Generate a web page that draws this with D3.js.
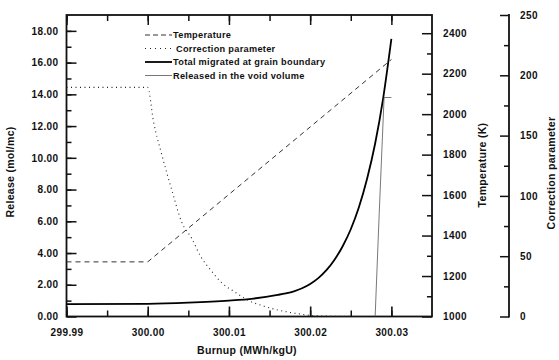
<!DOCTYPE html>
<html>
<head>
<meta charset="utf-8">
<script src="https://cdn.jsdelivr.net/npm/d3@7"></script>
<style>
  body { margin: 0; background: #fff; }
  svg { font-family: "Liberation Sans", Arial, sans-serif; font-weight: bold; }
  .axis path, .axis line { stroke: #111; }
  .axis text { font-size: 10px; fill: #111; letter-spacing: 0.4px; }
  .title { font-size: 10.5px; fill: #111; letter-spacing: 0.3px; }
  .legend text { font-size: 9.2px; fill: #111; letter-spacing: 0.3px; }
</style>
</head>
<body>
<div id="chart"></div>
<script>
// temperature (K) vs burnup
const burnupTemp = [299.99, 300.00, 300.03];
const temperature = [1270, 1270, 2270];

// correction parameter vs burnup
const burnupCorr = [299.99, 300.0000, 300.0007, 300.0017, 300.0030, 300.0042, 300.0054, 300.0065,
  300.0077, 300.0091, 300.0108, 300.0125, 300.0141, 300.0161, 300.0188, 300.0205, 300.0230, 300.0270];
const correction = [190, 190, 162, 135, 104, 78, 65, 50, 39, 28, 20, 13, 9, 5.3, 2, 0.6, 0.2, 0];

// total migrated at grain boundary (mol/mc)
const burnupTotal = [299.99, 300.000, 300.005, 300.010, 300.013, 300.016, 300.017, 300.018, 300.019,
  300.020, 300.021, 300.022, 300.023, 300.024, 300.025, 300.026, 300.027, 300.028, 300.029, 300.030];
const totalMigrated = [0.78, 0.80, 0.87, 1.0, 1.13, 1.36, 1.46, 1.59, 1.78, 2.05, 2.42, 2.92, 3.58,
  4.43, 5.5, 6.88, 8.66, 10.9, 13.8, 17.5];

// released in the void volume (mol/mc)
const burnupVoid = [300.0280, 300.0285, 300.0291, 300.0300];
const releasedVoid = [0, 6.5, 13.8, 13.8];

const xTicks = [299.99, 300.00, 300.01, 300.02, 300.03];
const legendLabels = ['Temperature', 'Correction parameter', 'Total migrated at grain boundary', 'Released in the void volume'];

const margin = { top: 15, left: 66.5, right: 127, bottom: 43.5 };
const W = 559, H = 360;
const width = W - margin.left - margin.right;
const height = H - margin.top - margin.bottom;

const svg = d3.select('#chart').append('svg')
  .attr('width', W)
  .attr('height', H);

const g = svg.append('g')
  .attr('transform', 'translate(' + margin.left + ',' + margin.top + ')');

// scales
const x = d3.scaleLinear().domain([299.99, 300.035]).range([0, width]);
const y = d3.scaleLinear().domain([0, 19]).range([height, 0]);
const yT = d3.scaleLinear().domain([1000, 2490]).range([height, 0]);
const yC = d3.scaleLinear().domain([0, 250]).range([height, 0]);

const minorX = d3.range(0, 9).map(i => 299.99 + i * 0.005);

// helper: draws ticks pointing into the plot
function ticksAxis(sel, axis, cls) {
  const a = sel.append('g').attr('class', 'axis ' + cls).call(axis);
  a.select('.domain').remove();
  a.selectAll('line').attr('stroke-width', 1.5);
  return a;
}

// BOTTOM AXIS - minor ticks
ticksAxis(g.append('g').attr('transform', 'translate(0,' + height + ')'),
  d3.axisTop(x).tickValues(minorX).tickSize(6).tickFormat(''), 'x-minor');
// bottom major
const xa = g.append('g').attr('class', 'axis axis--x')
  .attr('transform', 'translate(0,' + height + ')')
  .call(d3.axisTop(x).tickValues(xTicks).tickSize(10).tickFormat(d3.format('.2f')));
xa.select('.domain').remove();
xa.selectAll('line').attr('stroke-width', 1.6);
xa.selectAll('text').attr('y', 12).attr('dy', '0.71em');

// TOP AXIS
ticksAxis(g, d3.axisBottom(x).tickValues(minorX).tickSize(6).tickFormat(''), 'x-top-minor');
ticksAxis(g, d3.axisBottom(x).tickValues(xTicks).tickSize(10).tickFormat(''), 'x-top');

// LEFT AXIS
ticksAxis(g, d3.axisRight(y).tickValues(d3.range(1, 19)).tickSize(5).tickFormat(''), 'y-minor');
const ya = g.append('g').attr('class', 'axis axis--y')
  .call(d3.axisRight(y).tickValues(d3.range(0, 19, 2)).tickSize(10).tickFormat(d3.format('.2f')));
ya.select('.domain').remove();
ya.selectAll('line').attr('stroke-width', 1.5);
ya.selectAll('text').attr('x', -8).attr('text-anchor', 'end');

// TEMPERATURE AXIS (right side of frame)
const gT = g.append('g').attr('transform', 'translate(' + width + ',0)');
ticksAxis(gT, d3.axisLeft(yT).tickValues(d3.range(1100, 2500, 200)).tickSize(5).tickFormat(''), 't-minor');
const ta = gT.append('g').attr('class', 'axis axis--t')
  .call(d3.axisLeft(yT).tickValues(d3.range(1000, 2500, 200)).tickSize(10).tickFormat(d3.format('d')));
ta.select('.domain').remove();
ta.selectAll('line').attr('stroke-width', 1.5);
ta.selectAll('text').attr('x', 11).attr('text-anchor', 'start');

// CORRECTION AXIS
const cx = 442.5;
const gC = g.append('g').attr('transform', 'translate(' + cx + ',0)');
ticksAxis(gC, d3.axisLeft(yC).tickValues(d3.range(25, 250, 50)).tickSize(5).tickFormat(''), 'c-minor');
const ca = gC.append('g').attr('class', 'axis axis--c')
  .call(d3.axisLeft(yC).tickValues(d3.range(0, 251, 50)).tickSize(9));
ca.select('.domain').remove();
ca.selectAll('line').attr('stroke-width', 1.5);
ca.selectAll('text').attr('x', 11).attr('text-anchor', 'start');
gC.append('line').attr('x1', 0).attr('x2', 0).attr('y1', yC(250) - 1).attr('y2', yC(0) + 1)
  .attr('stroke', '#111').attr('stroke-width', 1.8);

// FRAME
g.append('rect')
  .attr('width', width).attr('height', height)
  .attr('fill', 'none').attr('stroke', '#111').attr('stroke-width', 1.8);

// LINES
const lineOf = (xs, ys, sy) => d3.line()
  .x((d, i) => x(xs[i]))
  .y(d => sy(d))
  .curve(d3.curveMonotoneX);

g.append('path').datum(temperature)
  .attr('d', d3.line().x((d, i) => x(burnupTemp[i])).y(d => yT(d)))
  .attr('fill', 'none').attr('stroke', '#333').attr('stroke-width', 1)
  .attr('stroke-dasharray', '5,4');

g.append('path').datum(correction)
  .attr('d', lineOf(burnupCorr, correction, yC))
  .attr('fill', 'none').attr('stroke', '#222').attr('stroke-width', 1.1)
  .attr('stroke-dasharray', '1,3.5');

g.append('path').datum(totalMigrated)
  .attr('d', lineOf(burnupTotal, totalMigrated, y))
  .attr('fill', 'none').attr('stroke', '#000').attr('stroke-width', 1.8);

g.append('path').datum(releasedVoid)
  .attr('d', d3.line().x((d, i) => x(burnupVoid[i])).y(d => y(d)))
  .attr('fill', 'none').attr('stroke', '#555').attr('stroke-width', 0.8);

// LEGEND
const legendStyles = [
  { dash: '5,3', w: 1, c: '#333' },
  { dash: '1,4', w: 1.1, c: '#222' },
  { dash: null, w: 1.8, c: '#000' },
  { dash: null, w: 0.8, c: '#555' }
];
const lg = svg.append('g').attr('class', 'legend');
legendLabels.forEach((lab, i) => {
  const ly = 35 + i * 13.5;
  const s = legendStyles[i];
  lg.append('line')
    .attr('x1', 145).attr('x2', 172).attr('y1', ly).attr('y2', ly)
    .attr('stroke', s.c).attr('stroke-width', s.w)
    .attr('stroke-dasharray', s.dash);
  lg.append('text').attr('x', i === 1 ? 176 : 173).attr('y', ly).attr('dy', '0.35em').text(lab);
});

// TITLES
svg.append('text').attr('class', 'title')
  .attr('transform', 'translate(14,172) rotate(-90)')
  .attr('text-anchor', 'middle').text('Release (mol/mc)');
svg.append('text').attr('class', 'title')
  .attr('transform', 'translate(486,165) rotate(-90)')
  .attr('text-anchor', 'middle').text('Temperature (K)');
svg.append('text').attr('class', 'title')
  .attr('transform', 'translate(555,173) rotate(-90)')
  .attr('text-anchor', 'middle').text('Correction parameter');
svg.append('text').attr('class', 'title')
  .attr('x', 247).attr('y', 354)
  .attr('text-anchor', 'middle').text('Burnup (MWh/kgU)');
</script>
</body>
</html>
